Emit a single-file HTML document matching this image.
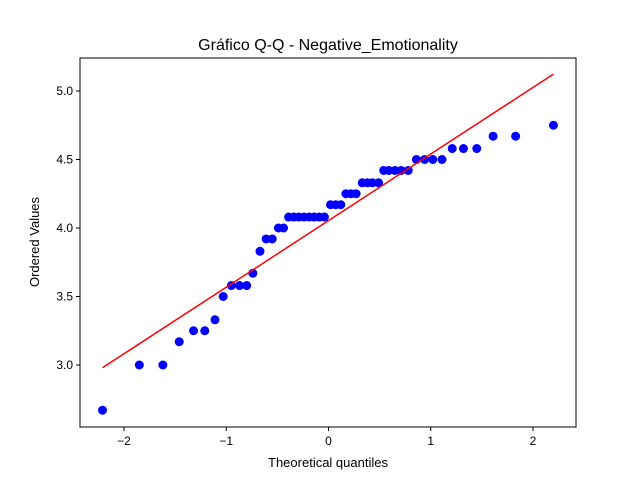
<!DOCTYPE html>
<html><head><meta charset="utf-8"><style>body{margin:0;background:#fff}svg{display:block;font-family:"Liberation Sans","DejaVu Sans",sans-serif}</style></head>
<body>
<svg id="chart" width="640" height="480" xmlns="http://www.w3.org/2000/svg">
<text x="328" y="50" font-size="16" text-anchor="middle">Gráfico Q-Q - Negative_Emotionality</text>
<g id="plot"></g>
<text x="328" y="467" font-size="13" text-anchor="middle">Theoretical quantiles</text>
<text transform="translate(39,242) rotate(-90)" font-size="13" text-anchor="middle">Ordered Values</text>
</svg>
<script>
const xq=[-2.21,-1.85,-1.62,-1.46,-1.32,-1.21,-1.11,-1.03,-0.95,-0.87,-0.80,-0.74,-0.67,-0.61,-0.55,-0.49,-0.44,-0.39,-0.34,-0.29,-0.24,-0.19,-0.14,-0.09,-0.04,0.02,0.07,0.12,0.17,0.22,0.27,0.33,0.38,0.43,0.49,0.54,0.59,0.65,0.71,0.78,0.86,0.94,1.02,1.11,1.21,1.32,1.45,1.61,1.83,2.20];
const yv=[2.67,3.0,3.0,3.17,3.25,3.25,3.33,3.5,3.58,3.58,3.58,3.67,3.83,3.92,3.92,4.0,4.0,4.08,4.08,4.08,4.08,4.08,4.08,4.08,4.08,4.17,4.17,4.17,4.25,4.25,4.25,4.33,4.33,4.33,4.33,4.42,4.42,4.42,4.42,4.42,4.5,4.5,4.5,4.5,4.58,4.58,4.58,4.67,4.67,4.75];
const fitSlope=0.486, fitIntercept=4.054;
const fitRange=[-2.21,2.20];
const xTicks=[-2,-1,0,1,2];
const yTicks=[3.0,3.5,4.0,4.5,5.0];
const L=80,R=576,T=58,B=427;
const sx=v=>328.5+v*102.25;
const sy=v=>91+(5-v)*137;
const NS="http://www.w3.org/2000/svg";
const g=document.getElementById('plot');
function mk(t,a){const e=document.createElementNS(NS,t);for(const k in a)e.setAttribute(k,a[k]);g.appendChild(e);return e;}
xTicks.forEach(v=>{
 const l=mk('line',{x1:sx(v),x2:sx(v),y1:B,y2:B+4,stroke:'#000'});
 
 
 const t=mk('text',{x:sx(v),y:B+18,'font-size':12,'text-anchor':'middle'});
 t.textContent=(v<0?'\u2212'+(-v):v);
 
 
});
yTicks.forEach(v=>{
 const l=mk('line',{x1:L-4,x2:L,y1:sy(v),y2:sy(v),stroke:'#000'});
 
 
 const t=mk('text',{x:L-7,y:sy(v)+4,'font-size':12,'text-anchor':'end'});
 t.textContent=v.toFixed(1);
 
 
});
xq.forEach((x,i)=>{
 const c=mk('circle',{cx:sx(x),cy:sy(yv[i]),r:4.5,fill:'#0000ff'});
 
 
});
const fl=mk('line',{x1:sx(fitRange[0]),y1:sy(fitIntercept+fitSlope*fitRange[0]),x2:sx(fitRange[1]),y2:sy(fitIntercept+fitSlope*fitRange[1]),stroke:'#ff0000','stroke-width':1.5});


const fr=mk('rect',{x:L,y:T,width:R-L,height:B-T,fill:'none',stroke:'#000','stroke-width':1});


</script>
</body></html>
